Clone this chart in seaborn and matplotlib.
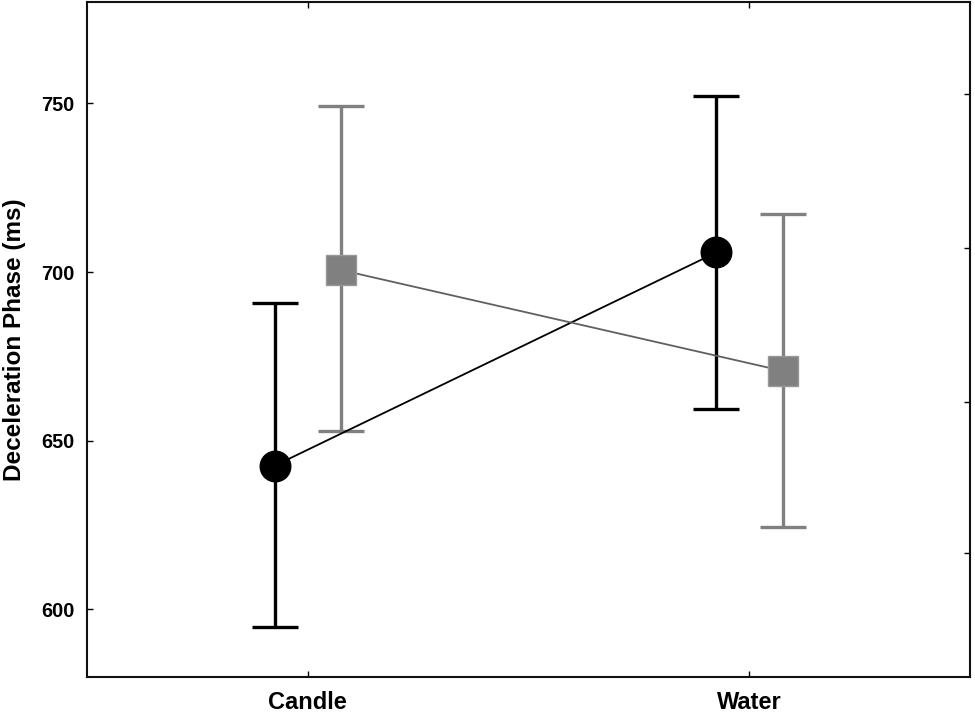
import numpy as np
import pandas as pd
import seaborn as sns
import matplotlib.pyplot as plt

conditions = ["Candle", "Water"]
groups = ["Group 1", "Group 2"]
means_g1 = [642.6, 705.8]
lower_g1 = [594.7, 659.5]
upper_g1 = [690.8, 752.2]
means_g2 = [700.6, 670.7]
lower_g2 = [653.0, 624.3]
upper_g2 = [749.1, 717.2]
right_ticks = [616.6, 661.5, 707.1, 752.7]

sns.set_style("white")
plt.rcParams['font.family'] = ['Liberation Sans', 'DejaVu Sans']
plt.rcParams['text.color'] = 'black'
plt.rcParams['axes.labelcolor'] = 'black'
plt.rcParams['xtick.color'] = 'black'
plt.rcParams['ytick.color'] = 'black'

df = pd.DataFrame({
    'condition': conditions * 2,
    'group': [groups[0]] * 2 + [groups[1]] * 2,
    'value': means_g1 + means_g2,
})

colors = ["#000000", "#808080"]
line_colors = ["#000000", "#606060"]

fig = plt.figure(figsize=(9.75, 7.14), dpi=100)
ax = fig.add_axes([0.0892, 0.052, 0.906, 0.945])

sns.pointplot(data=df, x='condition', y='value', hue='group', order=conditions,
              hue_order=groups, palette=line_colors, markers=['o', 's'],
              dodge=0.15, errorbar=None, linewidth=1.3, markersize=22,
              legend=False, ax=ax)

# style markers and add the error bars at the dodged positions
lows = [lower_g1, lower_g2]
highs = [upper_g1, upper_g2]
mids = [means_g1, means_g2]
for i, line in enumerate(ax.lines[:2]):
    line.set_zorder(4)
    line.set_markerfacecolor(colors[i])
    line.set_markeredgecolor("#000000" if i == 0 else "#999999")
    line.set_markeredgewidth(1.0)
    xs = line.get_xdata()
    m = np.array(mids[i])
    yerr = [m - np.array(lows[i]), np.array(highs[i]) - m]
    ax.errorbar(xs, m, yerr=yerr, fmt='none', ecolor=colors[i], elinewidth=2.4,
                capsize=16.5, capthick=2.4, zorder=2)

ax.set_xlim(-0.5, 1.5)
ax.set_ylim(580, 780)
ax.set_yticks([600, 650, 700, 750])
ax.set_xlabel("")
ax.set_ylabel("Deceleration Phase (ms)", fontsize=17.5, fontweight='bold', labelpad=11)
ax.tick_params(axis='y', direction='in', length=4, width=1, labelsize=14.3, left=True, pad=9)
ax.tick_params(axis='x', direction='in', length=4, width=1, labelsize=17, bottom=True, top=True, pad=10)
for lbl in ax.get_xticklabels() + ax.get_yticklabels():
    lbl.set_fontweight('bold')

for sp in ax.spines.values():
    sp.set_visible(True)
    sp.set_linewidth(1.5)
    sp.set_color("#111111")

ax2 = ax.twinx()
ax2.set_ylim(580, 780)
ax2.set_yticks(right_ticks)
ax2.set_yticklabels([])
ax2.tick_params(axis='y', direction='in', length=4, width=1, right=True)
for sp in ax2.spines.values():
    sp.set_visible(False)

fig.savefig("out.png", dpi=100)
